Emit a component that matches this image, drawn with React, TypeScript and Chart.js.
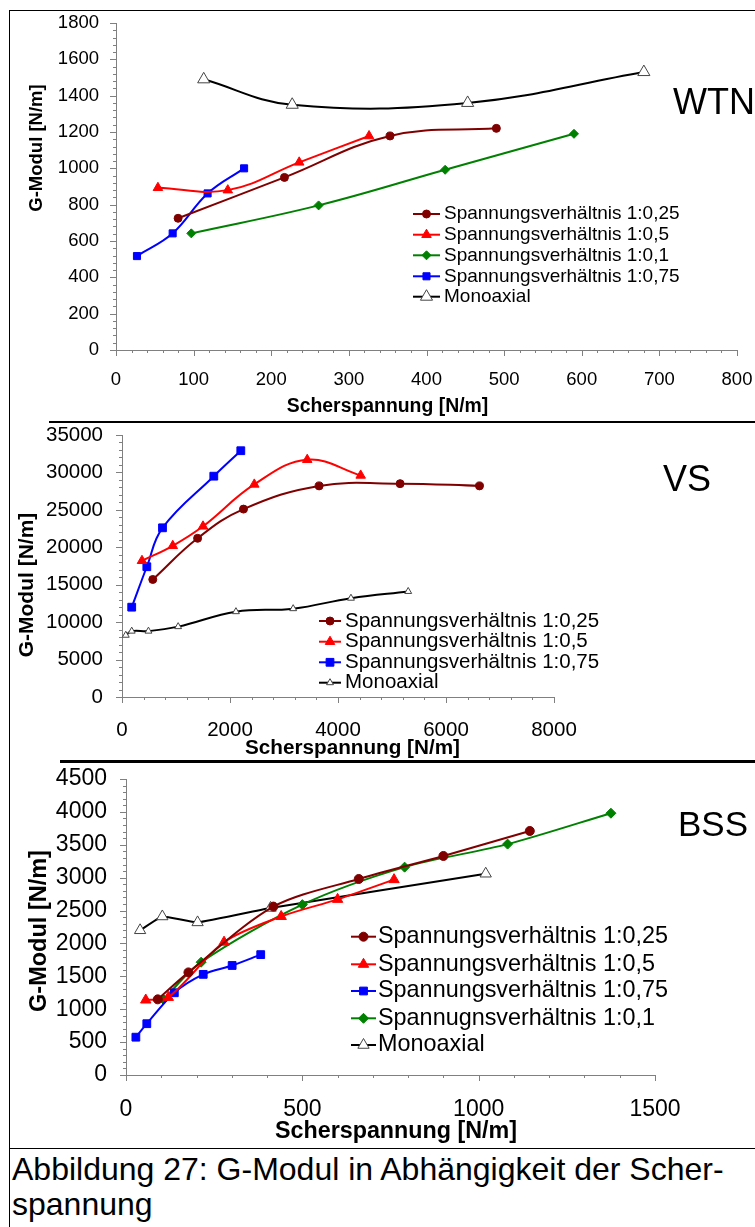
import React, { useEffect, useRef } from 'react';
import { Chart, registerables } from 'chart.js';
import { drawPoint } from 'chart.js/helpers';

Chart.register(...registerables);

const FONT = '"Liberation Sans", Arial, Helvetica, sans-serif';

// ---------- WTN ----------
const wtnLabels = [
  'Spannungsverhältnis 1:0,25',
  'Spannungsverhältnis 1:0,5',
  'Spannungsverhältnis 1:0,1',
  'Spannungsverhältnis 1:0,75',
  'Monoaxial',
];
const wtnX025 = [80, 217, 353, 490];
const wtnY025 = [725, 950, 1178, 1220];
const wtnX05 = [54, 144, 236, 326];
const wtnY05 = [893, 880, 1033, 1178];
const wtnX01 = [97, 261, 424, 590];
const wtnY01 = [642, 796, 992, 1190];
const wtnX075 = [27, 73, 118, 165];
const wtnY075 = [517, 642, 862, 1000];
const wtnXMono = [113, 227, 453, 680];
const wtnYMono = [1490, 1350, 1360, 1530];
const wtnXTicks = [0, 100, 200, 300, 400, 500, 600, 700, 800];
const wtnYTicks = [0, 200, 400, 600, 800, 1000, 1200, 1400, 1600, 1800];

// ---------- VS ----------
const vsLabels = [
  'Spannungsverhältnis 1:0,25',
  'Spannungsverhältnis 1:0,5',
  'Spannungsverhältnis 1:0,75',
  'Monoaxial',
];
const vsX025 = [570, 1400, 2250, 3650, 5150, 6620];
const vsY025 = [15700, 21200, 25100, 28200, 28500, 28200];
const vsX05 = [370, 940, 1500, 2450, 3430, 4420];
const vsY05 = [18200, 20200, 22800, 28400, 31700, 29600];
const vsX075 = [180, 460, 750, 1700, 2200];
const vsY075 = [12000, 17400, 22600, 29500, 32900];
const vsXMono = [70, 180, 490, 1040, 2110, 3170, 4240, 5300];
const vsYMono = [8250, 8800, 8800, 9400, 11400, 11800, 13200, 14100];
const vsXTicks = [0, 2000, 4000, 6000, 8000];
const vsYTicks = [0, 5000, 10000, 15000, 20000, 25000, 30000, 35000];

// ---------- BSS ----------
const bssLabels = [
  'Spannungsverhältnis 1:0,25',
  'Spannungsverhältnis 1:0,5',
  'Spannungsverhältnis 1:0,75',
  'Spannugnsverhältnis 1:0,1',
  'Monoaxial',
];
const bssX025 = [90, 177, 418, 660, 900, 1145];
const bssY025 = [1150, 1560, 2560, 2980, 3330, 3710];
const bssX05 = [56, 120, 278, 440, 600, 760];
const bssY05 = [1140, 1180, 2020, 2410, 2670, 2970];
const bssX075 = [28, 59, 137, 219, 301, 382];
const bssY075 = [575, 780, 1250, 1530, 1665, 1830];
const bssX01 = [106, 213, 500, 790, 1082, 1375];
const bssY01 = [1150, 1715, 2590, 3160, 3510, 3980];
const bssXMono = [40, 103, 203, 410, 1020];
const bssYMono = [2200, 2410, 2320, 2540, 3060];
const bssXTicks = [0, 500, 1000, 1500];
const bssYTicks = [0, 500, 1000, 1500, 2000, 2500, 3000, 3500, 4000, 4500];

const captionLines = ['Abbildung 27: G-Modul in Abhängigkeit der Scher-', 'spannung'];

// ---------- styles ----------
type Sty = { color: string; point: string; fill?: string; pborder?: string };
const S025: Sty = { color: '#800000', point: 'circle' };
const S05: Sty = { color: '#FF0000', point: 'triangle' };
const S01: Sty = { color: '#008000', point: 'rectRot' };
const S075: Sty = { color: '#0000FF', point: 'rect' };
const SMONO: Sty = { color: '#000000', point: 'triangle', fill: '#FFFFFF', pborder: '#444444' };

function mk(label: string, xs: number[], ys: number[], st: Sty, r: number, lw = 2, tension = 0.4) {
  return {
    label,
    data: xs.map((x, i) => ({ x, y: ys[i] })),
    showLine: true,
    borderColor: st.color,
    backgroundColor: st.fill || st.color,
    borderWidth: lw,
    tension,
    pointStyle: st.point,
    pointRadius: r,
    pointBackgroundColor: st.fill || st.color,
    pointBorderColor: st.pborder || st.color,
    pointBorderWidth: 1,
  };
}

const decorPlugin = {
  id: 'decor',
  afterDraw(chart: any, _a: any, o: any) {
    const ctx: CanvasRenderingContext2D = chart.ctx;
    const xs = chart.scales.x;
    const ys = chart.scales.y;
    const ox = o.ox;
    const oy = o.oy;
    ctx.save();
    // tick marks (major + minor)
    ctx.strokeStyle = '#808080';
    ctx.lineWidth = 1;
    const ticks = (scale: any, minor: number, major: number, horiz: boolean) => {
      const n = Math.round((scale.max - scale.min) / minor);
      const ratio = Math.round(major / minor);
      for (let i = 0; i <= n; i++) {
        const v = scale.min + i * minor;
        const p = Math.round(scale.getPixelForValue(v)) + 0.5;
        const len = i % ratio === 0 ? 6 : 3;
        ctx.beginPath();
        if (horiz) {
          ctx.moveTo(p, xs.top);
          ctx.lineTo(p, xs.top + len);
        } else {
          ctx.moveTo(ys.right, p);
          ctx.lineTo(ys.right - len, p);
        }
        ctx.stroke();
      }
    };
    ticks(xs, o.xMinor, o.xMajor, true);
    ticks(ys, o.yMinor, o.yMajor, false);

    ctx.fillStyle = '#000';
    ctx.textBaseline = 'middle';
    // x title
    ctx.font = `bold ${o.xTitle.size}px ${FONT}`;
    ctx.textAlign = 'center';
    ctx.fillText(o.xTitle.text, o.xTitle.x - ox, o.xTitle.y - oy);
    // y title
    ctx.save();
    ctx.translate(o.yTitle.x - ox, o.yTitle.y - oy);
    ctx.rotate(-Math.PI / 2);
    ctx.font = `bold ${o.yTitle.size}px ${FONT}`;
    ctx.fillText(o.yTitle.text, 0, 0);
    ctx.restore();
    // tag
    ctx.font = `${o.tag.size}px ${FONT}`;
    ctx.textAlign = 'left';
    ctx.fillText(o.tag.text, o.tag.x - ox, o.tag.y - oy);
    // legend
    const lg = o.legend;
    chart.data.datasets.forEach((ds: any, i: number) => {
      const y = lg.rows[i] - oy;
      const x1 = lg.x1 - ox;
      const x2 = lg.x2 - ox;
      ctx.strokeStyle = ds.borderColor;
      ctx.lineWidth = ds.borderWidth;
      ctx.beginPath();
      ctx.moveTo(x1, y);
      ctx.lineTo(x2, y);
      ctx.stroke();
      ctx.fillStyle = ds.pointBackgroundColor;
      ctx.strokeStyle = ds.pointBorderColor;
      ctx.lineWidth = ds.pointBorderWidth;
      drawPoint(ctx, { pointStyle: ds.pointStyle, radius: ds.pointRadius, rotation: 0, borderWidth: ds.pointBorderWidth } as any, (x1 + x2) / 2, y);
      ctx.fillStyle = '#000';
      ctx.font = `${lg.size}px ${FONT}`;
      ctx.textAlign = 'left';
      ctx.textBaseline = 'middle';
      ctx.fillText(ds.label, lg.tx - ox, y);
    });
    ctx.restore();
  },
};

const XH = 50;

function buildConfig(p: any) {
  const { ox, oy, w, h, area } = p;
  const ySize = p.tickSize;
  return {
    type: 'scatter',
    data: { datasets: p.datasets },
    plugins: [decorPlugin],
    options: {
      animation: false,
      responsive: false,
      events: [],
      layout: {
        autoPadding: false,
        padding: { left: 0, top: area.t - oy, right: ox + w - area.r, bottom: oy + h - area.b - XH },
      },
      plugins: {
        legend: { display: false },
        tooltip: { enabled: false },
        decor: {
          ox, oy,
          xMinor: p.xMinor, xMajor: p.xTicks[1] - p.xTicks[0],
          yMinor: p.yMinor, yMajor: p.yTicks[1] - p.yTicks[0],
          xTitle: p.xTitle, yTitle: p.yTitle, tag: p.tag, legend: p.legend,
        },
      },
      scales: {
        x: {
          type: 'linear',
          min: p.xTicks[0],
          max: p.xTicks[p.xTicks.length - 1],
          grid: { display: false, drawTicks: false },
          border: { display: true, color: '#808080', width: 1 },
          afterFit: (s: any) => {
            s.height = XH;
            s.paddingLeft = s.paddingRight = s.paddingTop = s.paddingBottom = 0;
          },
          afterBuildTicks: (s: any) => {
            s.ticks = p.xTicks.map((v: number) => ({ value: v }));
          },
          ticks: {
            autoSkip: false,
            maxRotation: 0,
            minRotation: 0,
            color: '#000',
            font: { family: FONT, size: ySize },
            padding: p.xTickCenter - area.b - 0.6 * ySize,
            callback: (v: any) => String(v),
          },
        },
        y: {
          type: 'linear',
          min: p.yTicks[0],
          max: p.yTicks[p.yTicks.length - 1],
          grid: { display: false, drawTicks: false },
          border: { display: true, color: '#808080', width: 1 },
          afterFit: (s: any) => {
            s.width = area.l - ox;
            s.paddingLeft = s.paddingRight = s.paddingTop = s.paddingBottom = 0;
          },
          afterBuildTicks: (s: any) => {
            s.ticks = p.yTicks.map((v: number) => ({ value: v }));
          },
          ticks: {
            autoSkip: false,
            color: '#000',
            font: { family: FONT, size: ySize },
            padding: area.l - p.yTickRight,
            callback: (v: any) => String(v),
          },
        },
      },
    },
  };
}

const panels = [
  {
    ox: 10, oy: 11, w: 745, h: 409,
    area: { l: 116, r: 737, t: 23, b: 350 },
    xTicks: wtnXTicks, yTicks: wtnYTicks, xMinor: 20, yMinor: 40,
    tickSize: 18.5, xTickCenter: 380, yTickRight: 99,
    xTitle: { text: 'Scherspannung [N/m]', x: 387.5, y: 407, size: 19.4 },
    yTitle: { text: 'G-Modul [N/m]', x: 37, y: 148, size: 18.5 },
    tag: { text: 'WTN', x: 673, y: 104, size: 36 },
    legend: { x1: 413, x2: 440, tx: 444, rows: [214, 234.7, 255.3, 276.3, 296.7], size: 19 },
    datasets: [
      mk(wtnLabels[0], wtnX025, wtnY025, S025, 4),
      mk(wtnLabels[1], wtnX05, wtnY05, S05, 5.5),
      mk(wtnLabels[2], wtnX01, wtnY01, S01, 4.5),
      mk(wtnLabels[3], wtnX075, wtnY075, S075, 5),
      mk(wtnLabels[4], wtnXMono, wtnYMono, SMONO, 7),
    ],
  },
  {
    ox: 10, oy: 424, w: 745, h: 335,
    area: { l: 122, r: 554, t: 435, b: 697 },
    xTicks: vsXTicks, yTicks: vsYTicks, xMinor: 400, yMinor: 1000,
    tickSize: 20.5, xTickCenter: 730, yTickRight: 103,
    xTitle: { text: 'Scherspannung [N/m]', x: 352.5, y: 748, size: 20.7 },
    yTitle: { text: 'G-Modul [N/m]', x: 27.5, y: 585, size: 21 },
    tag: { text: 'VS', x: 663, y: 481, size: 36 },
    legend: { x1: 319, x2: 341, tx: 345, rows: [621, 641.7, 662.3, 682.7], size: 20.5 },
    datasets: [
      mk(vsLabels[0], vsX025, vsY025, S025, 4),
      mk(vsLabels[1], vsX05, vsY05, S05, 5.5),
      mk(vsLabels[2], vsX075, vsY075, S075, 5.5),
      mk(vsLabels[3], vsXMono, vsYMono, SMONO, 4, 2),
    ],
  },
  {
    ox: 10, oy: 763, w: 745, h: 384,
    area: { l: 126, r: 655, t: 779, b: 1075 },
    xTicks: bssXTicks, yTicks: bssYTicks, xMinor: 100, yMinor: 100,
    tickSize: 23, xTickCenter: 1110, yTickRight: 107,
    xTitle: { text: 'Scherspannung [N/m]', x: 396, y: 1132, size: 23.3 },
    yTitle: { text: 'G-Modul [N/m]', x: 40, y: 931, size: 23.5 },
    tag: { text: 'BSS', x: 678, y: 826, size: 35 },
    legend: { x1: 351, x2: 376, tx: 378, rows: [936.7, 964.3, 991, 1018.3, 1045], size: 23.4 },
    datasets: [
      mk(bssLabels[0], bssX025, bssY025, S025, 4.5, 2, 0.3),
      mk(bssLabels[1], bssX05, bssY05, S05, 6, 2, 0.3),
      mk(bssLabels[2], bssX075, bssY075, S075, 5.5, 2, 0.3),
      mk(bssLabels[3], bssX01, bssY01, S01, 5, 2, 0.3),
      mk(bssLabels[4], bssXMono, bssYMono, SMONO, 6.5, 2, 0.1),
    ],
  },
];

function Panel({ p }: { p: any }) {
  const ref = useRef<HTMLCanvasElement>(null);
  useEffect(() => {
    const chart = new Chart(ref.current as HTMLCanvasElement, buildConfig(p) as any);
    return () => chart.destroy();
  }, [p]);
  return (
    <canvas
      ref={ref}
      width={p.w}
      height={p.h}
      style={{ position: 'absolute', left: p.ox, top: p.oy, width: p.w, height: p.h }}
    />
  );
}

export default function App() {
  const line = (l: number, t: number, w: number, h: number) => (
    <div style={{ position: 'absolute', left: l, top: t, width: w, height: h, background: '#000' }} />
  );
  return (
    <div
      style={{
        position: 'absolute', left: 0, top: 0, width: 755, height: 1227,
        overflow: 'hidden', background: '#fff', fontFamily: FONT,
      }}
    >
      {panels.map((p, i) => (
        <Panel key={i} p={p} />
      ))}
      {line(9, 10, 746, 1)}
      {line(9, 10, 1, 1217)}
      {line(49, 420.5, 706, 2.5)}
      {line(60, 760, 695, 2.5)}
      {line(9, 1148, 746, 1)}
      <div
        style={{
          position: 'absolute', left: 12, top: 1152, fontSize: 32, lineHeight: '35px',
          color: '#000', whiteSpace: 'nowrap', fontFamily: FONT,
        }}
      >
        {captionLines[0]}
        <br />
        {captionLines[1]}
      </div>
    </div>
  );
}
